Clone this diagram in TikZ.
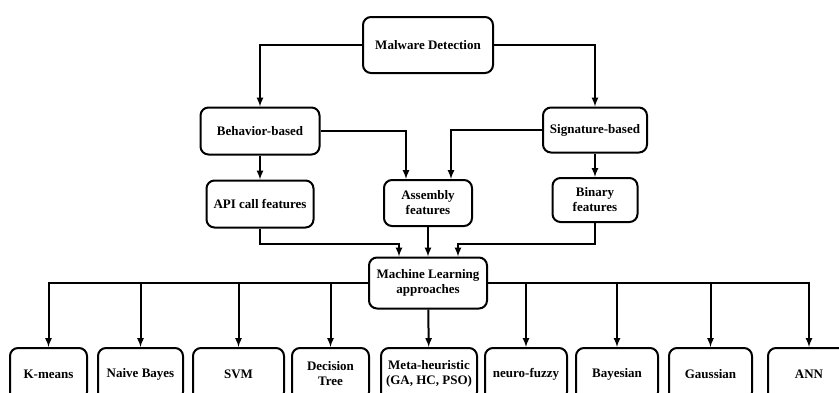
\documentclass[tikz,border=0pt]{standalone}
\usepackage{fontspec}
\setmainfont{Liberation Serif}
\usetikzlibrary{arrows}
\usetikzlibrary{positioning}
\tikzset{
	box/.style={draw, line width=2pt, rounded corners=8pt, align=center,
		font=\bfseries\fontsize{13}{15}\selectfont, inner sep=2pt},
	link/.style={->,>=latex, line width=2pt}
}
\begin{document}
\begin{tikzpicture}[x=1pt,y=-1pt]
	\useasboundingbox (0,0) rectangle (839,392);
	\clip (0,0) rectangle (839,392);
	%
	% haut
	\node[box,minimum width=130pt,minimum height=56pt] at (428,45) (MD) {Malware Detection};
	\node[box,minimum width=119pt,minimum height=47pt] at (260,131) (BB) {Behavior-based};
	\node[box,minimum width=104pt,minimum height=45pt] at (595,130) (SB) {Signature-based};
	% features
	\node[box,minimum width=107pt,minimum height=47pt] at (260,204) (API) {API call features};
	\node[box,minimum width=88pt,minimum height=46pt] at (428,203) (ASM) {Assembly\\features};
	\node[box,minimum width=85pt,minimum height=44pt] at (595,200) (BIN) {Binary\\features};
	\node[box,minimum width=118pt,minimum height=51pt] at (428,283) (ML) {Machine Learning\\approaches};
	% approches
	\node[box,minimum width=77pt,minimum height=52pt] at (48.5,374) (KM) {K-means};
	\node[box,minimum width=85pt,minimum height=52pt] at (140.5,374) (NB) {Naive Bayes};
	\node[box,minimum width=91pt,minimum height=52pt] at (238.5,374) (SVM) {SVM};
	\node[box,minimum width=77pt,minimum height=52pt] at (330.5,374) (DT) {Decision\\Tree};
	\node[box,minimum width=96pt,minimum height=52pt] at (429,374) (MH) {Meta-heuristic\\(GA, HC, PSO)};
	\node[box,minimum width=82pt,minimum height=52pt] at (526,374) (NF) {neuro-fuzzy};
	\node[box,minimum width=82pt,minimum height=52pt] at (617,374) (BAY) {Bayesian};
	\node[box,minimum width=83pt,minimum height=52pt] at (710.5,374) (GAU) {Gaussian};
	\node[box,minimum width=82pt,minimum height=52pt] at (809,374) (ANN) {ANN};
	%
	\draw[link] (MD) -| (BB);
	\draw[link] (MD) -| (SB);
	\draw[link] (BB) -- (API);
	\draw[link] (SB) -- (BIN);
	\draw[link] (BB) -| ([xshift=-22pt]ASM.north);
	\draw[link] (SB) -| ([xshift=23pt]ASM.north);
	%
	\draw[link] (API.south) -- ++(0,15) -| ([xshift=-29pt]ML.north);
	\draw[link] (ASM) -- (ML);
	\draw[link] (BIN.south) -- ++(0,21) -| ([xshift=30pt]ML.north);
	%
	\foreach \n in {KM,NB,SVM,DT,NF,BAY,GAU,ANN}
		\draw[link] (ML) -| (\n);
	\draw[link] (ML) -- (MH);
\end{tikzpicture}
\end{document}
